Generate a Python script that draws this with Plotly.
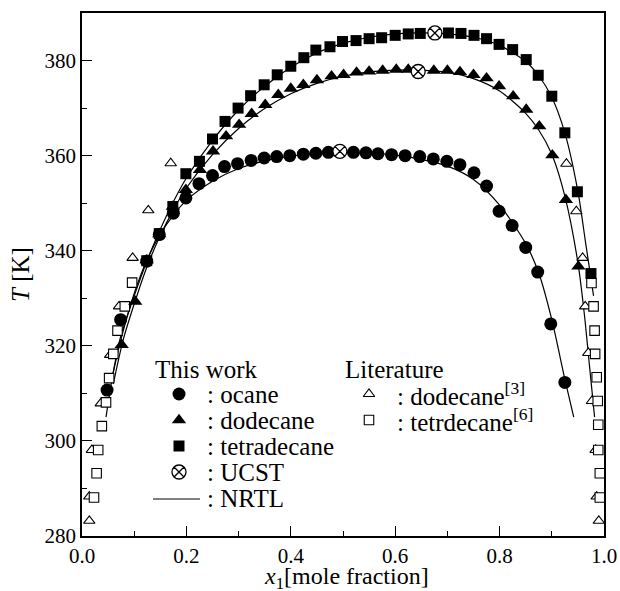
import plotly.graph_objects as go

# ---------------- data ----------------
octane_x = [0.048, 0.074, 0.124, 0.148, 0.175, 0.199, 0.224, 0.250, 0.273, 0.298, 0.324, 0.349, 0.373,
            0.398, 0.424, 0.448, 0.472, 0.520, 0.544, 0.567, 0.593, 0.619, 0.647, 0.673, 0.699, 0.724,
            0.751, 0.775, 0.799, 0.824, 0.850, 0.873, 0.898, 0.925]
octane_T = [310.7, 325.5, 337.8, 343.4, 347.9, 351.1, 354.1, 355.8, 357.7, 358.3, 359.0, 359.5, 359.8,
            360.0, 360.3, 360.5, 360.7, 360.7, 360.6, 360.4, 360.2, 360.0, 359.8, 359.3, 358.8, 358.1,
            356.4, 353.6, 348.3, 345.3, 340.7, 335.5, 324.6, 312.3]

dodecane_x = [0.076, 0.102, 0.124, 0.148, 0.174, 0.199, 0.226, 0.251, 0.276, 0.301, 0.325, 0.351, 0.376,
              0.400, 0.424, 0.450, 0.478, 0.501, 0.526, 0.550, 0.576, 0.602, 0.625, 0.674, 0.700, 0.724,
              0.750, 0.775, 0.799, 0.826, 0.851, 0.876, 0.901, 0.927, 0.951]
dodecane_T = [320.2, 329.3, 338.0, 343.5, 349.3, 352.8, 357.0, 360.9, 364.1, 366.5, 368.8, 370.7, 372.8,
              374.1, 374.9, 375.9, 376.7, 377.0, 377.5, 377.7, 377.9, 378.1, 378.1, 377.9, 377.9, 377.6,
              377.0, 376.3, 374.6, 372.5, 369.7, 366.2, 360.1, 350.7, 336.7]

tetradecane_x = [0.124, 0.148, 0.174, 0.199, 0.225, 0.250, 0.274, 0.299, 0.323, 0.349, 0.374, 0.400, 0.425,
                 0.448, 0.475, 0.499, 0.525, 0.550, 0.574, 0.600, 0.625, 0.648, 0.702, 0.726, 0.751, 0.775,
                 0.799, 0.825, 0.851, 0.874, 0.900, 0.925, 0.949, 0.975]
tetradecane_T = [337.9, 343.6, 349.3, 356.2, 358.8, 363.5, 367.2, 370.0, 372.6, 374.9, 377.0, 378.8, 380.6,
                 382.2, 382.9, 384.0, 384.2, 384.6, 384.8, 385.3, 385.6, 385.7, 385.8, 385.7, 385.3, 384.6,
                 383.4, 382.3, 380.2, 376.9, 372.5, 364.8, 352.4, 335.2]

ucst_x = [0.494, 0.644, 0.676]
ucst_T = [360.9, 377.7, 385.8]

lit_dodecane_x = [0.014, 0.014, 0.019, 0.036, 0.054, 0.071, 0.097, 0.127, 0.170,
                  0.928, 0.947, 0.959, 0.964, 0.970, 0.977, 0.984, 0.986, 0.990]
lit_dodecane_T = [283.2, 288.3, 298.1, 307.9, 318.1, 328.3, 338.5, 348.5, 358.4,
                  358.3, 348.3, 338.5, 328.3, 318.5, 308.4, 298.1, 288.3, 283.2]

lit_tetradecane_x = [0.023, 0.028, 0.031, 0.038, 0.046, 0.052, 0.060, 0.068, 0.082, 0.096,
                     0.976, 0.980, 0.982, 0.983, 0.986, 0.988, 0.989, 0.989, 0.992, 0.992]
lit_tetradecane_T = [288.1, 293.2, 298.1, 303.1, 308.1, 313.2, 318.3, 323.2, 328.3, 333.3,
                     333.2, 328.3, 323.2, 318.3, 313.4, 308.4, 303.4, 298.1, 293.2, 288.1]

nrtl_octane_x = [0.056, 0.075, 0.10, 0.125, 0.15, 0.175, 0.20, 0.25, 0.30, 0.35, 0.40, 0.45, 0.50, 0.55,
                 0.60, 0.65, 0.70, 0.75, 0.80, 0.85, 0.875, 0.90, 0.925, 0.942]
nrtl_octane_T = [312.5, 321.5, 331.0, 338.2, 343.5, 347.5, 350.6, 354.6, 357.3, 358.9, 359.9, 360.4, 360.6,
                 360.5, 360.1, 359.2, 357.8, 355.0, 349.6, 341.5, 335.3, 325.5, 313.0, 305.0]

nrtl_dodecane_x = [0.060, 0.079, 0.10, 0.125, 0.15, 0.175, 0.20, 0.25, 0.30, 0.35, 0.40, 0.45, 0.50, 0.55,
                   0.60, 0.65, 0.70, 0.75, 0.80, 0.85, 0.875, 0.90, 0.925, 0.95, 0.962, 0.972, 0.982]
nrtl_dodecane_T = [312.0, 321.3, 328.8, 336.8, 343.2, 348.6, 353.2, 360.2, 365.7, 369.9, 373.0, 375.2, 376.7,
                   377.6, 378.0, 378.0, 377.5, 376.2, 373.6, 368.9, 365.4, 360.3, 351.5, 337.5, 327.0,
                   316.0, 305.0]

nrtl_tetradecane_x = [0.046, 0.056, 0.073, 0.10, 0.125, 0.15, 0.175, 0.20, 0.25, 0.30, 0.35, 0.40, 0.45,
                      0.50, 0.55, 0.60, 0.65, 0.70, 0.75, 0.80, 0.85, 0.875, 0.90, 0.925, 0.95, 0.965, 0.98]
nrtl_tetradecane_T = [305.0, 312.0, 321.5, 330.5, 338.0, 344.5, 350.3, 355.3, 363.2, 369.6, 374.6, 378.6,
                      381.6, 383.6, 384.9, 385.6, 385.8, 385.6, 384.9, 383.2, 379.8, 376.8, 372.3, 364.8,
                      352.5, 341.5, 330.5]

x_ticks = [0.0, 0.2, 0.4, 0.6, 0.8, 1.0]
y_ticks = [280, 300, 320, 340, 360, 380]

# text
x_title = "<i>x</i><sub>1</sub>[mole fraction]"
y_title = "<i>T</i> [K]"
legend_left = ["This work", ": ocane", ": dodecane", ": tetradecane", ": UCST", ": NRTL"]
legend_right = ["Literature", ": dodecane<sup>[3]</sup>", ": tetrdecane<sup>[6]</sup>"]

# ---------------- figure ----------------
FONT = "Liberation Serif"
W, H = 620, 591
L, R, T, B = 82, 16, 13, 55
PLOT_H = H - B - T

fig = go.Figure()

line_style = dict(color="black", width=1.2, shape="spline", smoothing=0.8)
for xs, ts in [(nrtl_octane_x, nrtl_octane_T), (nrtl_dodecane_x, nrtl_dodecane_T),
               (nrtl_tetradecane_x, nrtl_tetradecane_T)]:
    fig.add_trace(go.Scatter(x=xs, y=ts, mode="lines", line=line_style, showlegend=False, hoverinfo="skip"))

fig.add_trace(go.Scatter(x=lit_dodecane_x, y=lit_dodecane_T, mode="markers",
                         marker=dict(symbol="triangle-up", size=10, color="white",
                                     line=dict(color="black", width=1.1)), showlegend=False))
fig.add_trace(go.Scatter(x=lit_tetradecane_x, y=lit_tetradecane_T, mode="markers",
                         marker=dict(symbol="square", size=9.5, color="white",
                                     line=dict(color="black", width=1.1)), showlegend=False))
fig.add_trace(go.Scatter(x=octane_x, y=octane_T, mode="markers",
                         marker=dict(symbol="circle", size=13, color="black"), showlegend=False))
fig.add_trace(go.Scatter(x=dodecane_x, y=dodecane_T, mode="markers",
                         marker=dict(symbol="triangle-up", size=12.5, color="black"), showlegend=False))
fig.add_trace(go.Scatter(x=tetradecane_x, y=tetradecane_T, mode="markers",
                         marker=dict(symbol="square", size=11, color="black"), showlegend=False))
fig.add_trace(go.Scatter(x=ucst_x, y=ucst_T, mode="markers",
                         marker=dict(symbol="circle-x", size=14, color="white",
                                     line=dict(color="black", width=1.3)), showlegend=False))

# ---- hand-made legend on an overlay axis measured in pixels ----
leg_rows_y = [369, 394, 420, 446, 472, 498]
mk_x_left, txt_x_left = 179, 205
mk_x_right, txt_x_right = 369, 395
xo, yo = "x2", "y2"

fig.add_trace(go.Scatter(x=[mk_x_left], y=[leg_rows_y[1]], xaxis=xo, yaxis=yo, mode="markers",
                         marker=dict(symbol="circle", size=13, color="black"), showlegend=False))
fig.add_trace(go.Scatter(x=[mk_x_left], y=[leg_rows_y[2]], xaxis=xo, yaxis=yo, mode="markers",
                         marker=dict(symbol="triangle-up", size=12.5, color="black"), showlegend=False))
fig.add_trace(go.Scatter(x=[mk_x_left], y=[leg_rows_y[3]], xaxis=xo, yaxis=yo, mode="markers",
                         marker=dict(symbol="square", size=11, color="black"), showlegend=False))
fig.add_trace(go.Scatter(x=[mk_x_left], y=[leg_rows_y[4]], xaxis=xo, yaxis=yo, mode="markers",
                         marker=dict(symbol="circle-x", size=14, color="white",
                                     line=dict(color="black", width=1.3)), showlegend=False))
fig.add_trace(go.Scatter(x=[153, 200], y=[leg_rows_y[5] + 1, leg_rows_y[5] + 1], xaxis=xo, yaxis=yo,
                         mode="lines", line=dict(color="black", width=1.2), showlegend=False))
fig.add_trace(go.Scatter(x=[mk_x_right], y=[leg_rows_y[1]], xaxis=xo, yaxis=yo, mode="markers",
                         marker=dict(symbol="triangle-up", size=10, color="white",
                                     line=dict(color="black", width=1.1)), showlegend=False))
fig.add_trace(go.Scatter(x=[mk_x_right], y=[leg_rows_y[2]], xaxis=xo, yaxis=yo, mode="markers",
                         marker=dict(symbol="square", size=9.5, color="white",
                                     line=dict(color="black", width=1.1)), showlegend=False))

annotations = []
for i, txt in enumerate(legend_left):
    x0 = 153 if i == 0 else txt_x_left
    annotations.append(dict(x=x0, y=leg_rows_y[i], xref=xo, yref=yo, text=txt, showarrow=False,
                            xanchor="left", yanchor="middle", font=dict(family=FONT, size=25, color="black")))
for i, txt in enumerate(legend_right):
    x0 = 343 if i == 0 else txt_x_right
    annotations.append(dict(x=x0, y=leg_rows_y[i], xref=xo, yref=yo, text=txt, showarrow=False,
                            xanchor="left", yanchor="middle", font=dict(family=FONT, size=25, color="black")))
# x-axis title, just below the tick labels
title_top_px = 561
annotations.append(dict(x=0.5 + 3 / (W - L - R), y=(H - B - title_top_px) / PLOT_H,
                        xref="paper", yref="paper", text=x_title, showarrow=False,
                        xanchor="center", yanchor="top", font=dict(family=FONT, size=24, color="black")))

axis_common = dict(showgrid=False, zeroline=False, showline=True, linecolor="black", linewidth=1.5,
                   mirror=True, ticks="inside", ticklen=10, tickwidth=1.3, tickcolor="black",
                   automargin=False,
                   tickfont=dict(family=FONT, size=21, color="black"))

fig.update_layout(
    template="none",
    width=W, height=H, margin=dict(l=L, r=R, t=T, b=B, pad=0),
    paper_bgcolor="white", plot_bgcolor="white",
    font=dict(family=FONT, color="black"),
    showlegend=False,
    xaxis=dict(range=[0, 1], tickvals=x_ticks, ticktext=[f"{v:.1f}" for v in x_ticks],
               minor=dict(ticks="inside", ticklen=5, tickwidth=1.3, tickcolor="black", dtick=0.1, tick0=0),
               **axis_common),
    yaxis=dict(range=[280, 390], tickvals=y_ticks,
               minor=dict(ticks="inside", ticklen=5, tickwidth=1.3, tickcolor="black", dtick=10, tick0=280),
               title=dict(text=y_title, standoff=8,
                          font=dict(family=FONT, size=25, color="black")),
               **axis_common),
    xaxis2=dict(range=[L, W - R], overlaying="x", visible=False, fixedrange=True),
    yaxis2=dict(range=[H - B, T], overlaying="y", visible=False, fixedrange=True),
    annotations=annotations,
)

fig.write_html("out.html")
